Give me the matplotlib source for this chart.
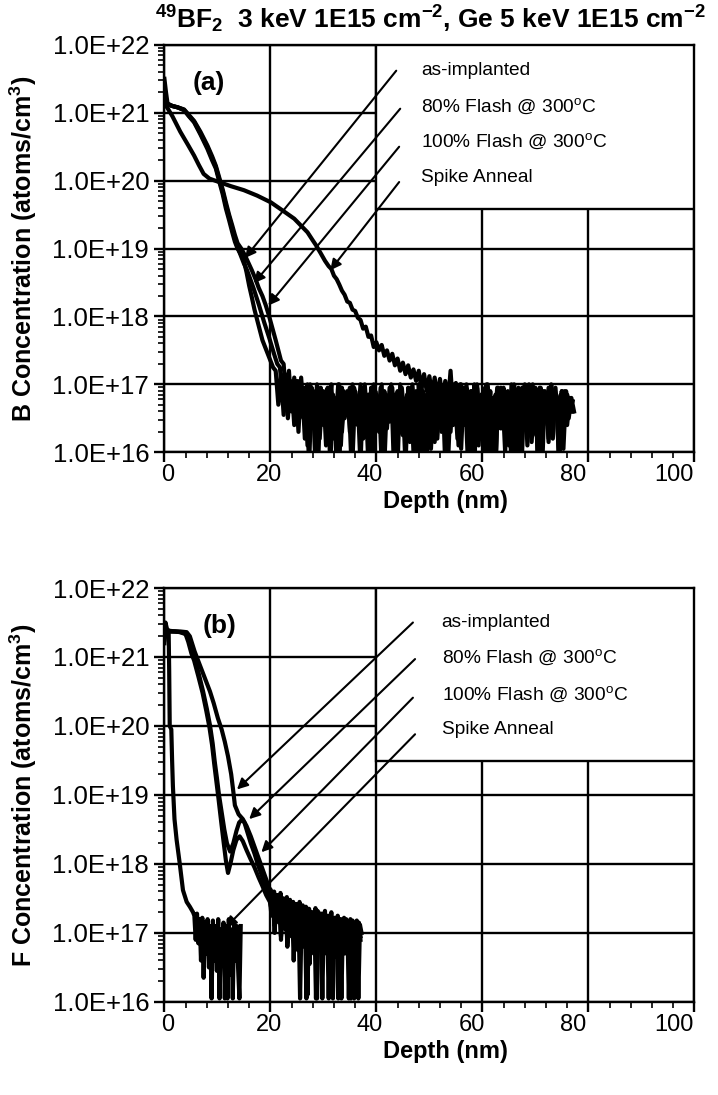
"""SIMS depth profiles of B and F after BF2 + Ge implant, two stacked panels."""

import matplotlib
matplotlib.use("Agg")
import matplotlib.pyplot as plt   # noqa: E402
import matplotlib.transforms as mtransforms  # noqa: E402
import numpy as np                # noqa: E402
from matplotlib.patches import Rectangle  # noqa: E402
from matplotlib.ticker import (FixedLocator, LogLocator, MultipleLocator,  # noqa: E402
                               NullFormatter)

plt.rcParams["font.family"] = ["Liberation Sans", "DejaVu Sans"]
plt.rcParams["mathtext.fontset"] = "custom"
plt.rcParams["mathtext.rm"] = "Liberation Sans"
plt.rcParams["mathtext.bf"] = "Liberation Sans:bold"
plt.rcParams["mathtext.default"] = "regular"

TITLE = (r"$^{\mathbf{49}}$BF$_{\mathbf{2}}$  3 keV 1E15 cm$^{\mathbf{-2}}$, "
         r"Ge 5 keV 1E15 cm$^{\mathbf{-2}}$")
LEGEND_LABELS = ["as-implanted", "80% Flash @ 300$^{o}$C",
                 "100% Flash @ 300$^{o}$C", "Spike Anneal"]
X_TICKS = [0, 20, 40, 60, 80, 100]
Y_TICK_EXP = [16, 17, 18, 19, 20, 21, 22]
Y_TICK_LABELS = ["1.0E+16", "1.0E+17", "1.0E+18", "1.0E+19",
                 "1.0E+20", "1.0E+21", "1.0E+22"]

# ---- panel (a): boron.  depth in nm, concentration as log10(atoms/cm3) ----
# smooth "heads" are read point by point, noisy "tails" follow at fixed steps
b_asimpl_x = [0, 0.3, 0.6, 1.5, 2.5, 3.7, 4.6, 5.6, 6.8, 8.1, 9.0, 9.7, 10.3,
              11.0, 11.6, 12.2, 12.8, 13.3, 13.8, 14.4, 15.0, 15.5, 16.0,
              16.5, 17.0, 17.5, 18.0, 18.5, 19.0, 19.5, 20.0, 20.5]
b_asimpl_y = [21.5, 21.3, 21.13, 21.1, 21.08, 21.04, 20.95, 20.86, 20.68,
              20.47, 20.3, 20.18, 20.0, 19.8, 19.59, 19.42, 19.24, 19.1, 19.0,
              18.92, 18.82, 18.65, 18.45, 18.28, 18.1, 17.95, 17.8, 17.65,
              17.55, 17.45, 17.35, 17.25]
b_asimpl_tail = [
    17.2, 16.7, 17.15, 16.55, 17.1, 16.6, 17.0, 16.4, 17.05, 16.5,
    16.95, 16.2, 17.0, 16.6, 16.85, 15.8, 16.95, 16.45, 16.9, 16.1,
    16.95, 16.5, 16.8, 15.8, 17.0, 16.3, 16.85, 16.55, 16.95, 15.9,
    16.9, 16.4, 17.0, 16.2, 16.75, 15.8, 16.95, 16.5, 16.85, 16.3,
    17.0, 15.8, 16.8, 16.45, 16.95, 16.1, 16.9, 16.6, 16.75, 15.8,
    16.95, 16.35, 16.85, 16.0, 17.0, 16.5, 16.8, 15.8, 16.9, 16.4,
    16.95, 16.2, 16.85, 16.55, 17.0, 15.8, 16.75, 16.4, 16.95, 16.1,
    16.9, 16.5, 16.95, 15.8, 16.8, 16.3, 17.0, 16.45, 16.85, 16.0,
    16.95, 16.4, 16.75, 15.8, 16.9, 16.55, 16.95, 16.2, 16.85, 16.45,
    17.0, 15.8, 16.85, 16.35, 16.95, 16.1, 16.8, 16.5, 16.9, 15.8,
    16.95, 16.4, 16.85, 16.2, 17.0, 16.55, 16.75, 15.8, 16.9, 16.4,
    16.85, 16.6, 16.75]

b_flash80_x = [0, 0.5, 1.5, 2.5, 3.7, 4.6, 5.6, 6.8, 8.1, 9.0, 9.7, 10.3,
               11.0, 11.6, 12.2, 12.8, 13.3, 13.8, 14.4, 15.0, 15.6, 16.2,
               16.8, 17.3, 17.8, 18.3, 18.8, 19.3, 19.8, 20.3, 20.8, 21.3]
b_flash80_y = [21.15, 21.12, 21.1, 21.08, 21.04, 20.96, 20.87, 20.7, 20.5,
               20.33, 20.2, 20.03, 19.84, 19.64, 19.47, 19.3, 19.15, 19.02,
               18.9, 18.78, 18.68, 18.55, 18.42, 18.3, 18.18, 18.05, 17.92,
               17.8, 17.68, 17.55, 17.42, 17.3]
b_flash80_tail = [
    17.25, 16.8, 17.15, 16.5, 17.05, 16.7, 16.95, 16.3, 17.1, 16.6,
    16.9, 15.8, 16.95, 16.5, 17.0, 16.2, 16.85, 16.6, 16.95, 15.8,
    16.85, 16.4, 17.0, 16.1, 16.9, 16.55, 16.8, 15.8, 16.95, 16.45,
    16.85, 16.25, 17.0, 16.5, 16.75, 15.8, 16.9, 16.4, 16.95, 16.0,
    16.85, 16.55, 17.0, 15.8, 16.8, 16.3, 16.95, 16.5, 16.85, 16.15,
    17.0, 16.45, 16.75, 15.8, 16.9, 16.35, 16.95, 16.05, 16.85, 16.5,
    17.0, 16.3, 16.8, 15.8, 16.95, 16.5, 16.85, 16.2, 17.0, 16.45,
    16.75, 15.8, 16.9, 16.4, 16.95, 16.1, 16.85, 16.55, 17.0, 15.8,
    16.8, 16.35, 16.95, 16.5, 16.85, 16.0, 16.9, 16.45, 16.75, 15.8,
    16.95, 16.3, 16.85, 16.55, 17.0, 16.15, 16.8, 16.4, 16.95, 15.8,
    16.9, 16.5, 16.75, 16.2, 16.95, 16.45, 16.85, 16.05, 16.9, 16.5,
    16.8, 16.6]

b_flash100_x = [0, 0.5, 1.5, 2.5, 3.7, 4.6, 5.6, 6.8, 8.1, 9.0, 9.7, 10.3,
                11.0, 11.6, 12.2, 12.8, 13.3, 13.8, 14.5, 15.2, 15.8, 16.5,
                17.2, 17.8, 18.5, 19.1, 19.7, 20.3, 21.0, 21.5, 22.0]
b_flash100_y = [21.2, 21.14, 21.1, 21.08, 21.05, 20.97, 20.88, 20.72, 20.52,
                20.36, 20.22, 20.06, 19.87, 19.68, 19.5, 19.34, 19.2, 19.08,
                19.0, 18.9, 18.8, 18.68, 18.55, 18.42, 18.3, 18.17, 18.02,
                17.85, 17.65, 17.5, 17.35]
b_flash100_tail = [
    17.3, 16.75, 17.2, 16.6, 17.1, 16.45, 17.05, 16.7, 16.95, 16.1,
    17.0, 16.5, 16.9, 15.8, 16.95, 16.4, 16.85, 16.6, 17.0, 16.2,
    16.8, 15.8, 16.95, 16.5, 16.9, 16.3, 17.0, 16.55, 16.75, 15.8,
    16.95, 16.4, 16.85, 16.1, 17.0, 16.5, 16.8, 15.8, 16.9, 16.35,
    16.95, 16.55, 16.85, 15.8, 17.0, 16.25, 16.75, 16.45, 16.95, 16.0,
    16.9, 16.5, 17.0, 15.8, 16.85, 16.4, 16.95, 16.15, 16.8, 16.55,
    16.95, 15.8, 16.9, 16.3, 17.0, 16.5, 16.75, 16.05, 16.95, 16.4,
    16.85, 15.8, 17.0, 16.55, 16.8, 16.2, 16.95, 16.45, 16.9, 15.8,
    16.85, 16.35, 16.95, 16.5, 16.75, 16.1, 17.0, 16.4, 16.85, 15.8,
    16.95, 16.55, 16.8, 16.25, 17.0, 16.45, 16.85, 15.8, 16.9, 16.5,
    16.95, 16.3, 16.85, 16.6, 16.75, 16.2, 16.9, 16.4, 16.8, 16.6]

b_spike_x = [0, 0.5, 1.5, 3.0, 4.5, 5.6, 6.5, 7.4, 8.5, 10.3, 12.5, 15.0,
             17.5, 20.1, 22.5, 24.5, 26.0, 27.0, 28.0, 28.6, 29.5, 30.3,
             31.0, 31.5, 32.0, 32.5, 33.0, 33.5, 34.0, 34.5, 35.0, 35.5,
             36.0, 36.5, 37.0, 37.5, 38.0, 38.5, 39.0, 39.5, 40.0, 40.5,
             41.0, 41.5, 42.0, 42.5, 43.0, 43.5, 44.0, 44.5, 45.0, 45.5,
             46.0, 46.5, 47.0, 47.5, 48.0, 48.5, 49.0, 49.5, 50.0, 50.5,
             51.0, 51.5, 52.0, 52.5, 53.0, 53.5, 54.0, 54.5, 55.0, 55.5,
             56.0]
b_spike_y = [21.12, 21.08, 20.95, 20.72, 20.52, 20.37, 20.23, 20.1, 20.03,
             19.98, 19.92, 19.86, 19.78, 19.68, 19.55, 19.44, 19.32, 19.24,
             19.12, 19.05, 18.93, 18.82, 18.74, 18.7, 18.6, 18.55, 18.47,
             18.38, 18.32, 18.22, 18.2, 18.1, 18.08, 17.98, 17.95, 17.82,
             17.85, 17.7, 17.72, 17.55, 17.62, 17.5, 17.58, 17.42, 17.5,
             17.35, 17.45, 17.28, 17.38, 17.2, 17.32, 17.15, 17.28, 17.1,
             17.22, 17.05, 17.2, 16.95, 17.15, 16.9, 17.12, 16.85, 17.1,
             16.8, 17.08, 16.75, 17.05, 16.7, 17.2, 16.6, 17.02, 16.5, 17.0]
b_spike_tail = [
    16.4, 17.0, 16.2, 16.9, 15.8, 16.95, 16.5, 16.85, 16.1, 17.0,
    16.45, 16.8, 15.8, 16.95, 16.35, 16.9, 16.55, 16.75, 15.8, 16.95,
    16.4, 16.85, 16.0, 17.0, 16.5, 16.8, 16.25, 16.95, 15.8, 16.9,
    16.45, 16.85, 16.15, 16.95, 16.55, 16.75, 15.8, 16.9, 16.4, 16.8,
    16.6, 16.75]

# ---- panel (b): fluorine ----
f_asimpl_x = [0, 0.2, 0.4, 1.0, 2.0, 3.0, 4.2, 4.8, 5.7, 6.7, 7.6, 8.6, 9.3,
              10.1, 10.8, 11.4, 12.0, 12.6, 13.0, 13.3, 14.0, 14.8, 15.5,
              16.3, 17.0, 17.7, 18.4, 19.1, 19.8]
f_asimpl_y = [21.2, 21.45, 21.4, 21.37, 21.37, 21.37, 21.36, 21.3, 21.08,
              20.88, 20.7, 20.5, 20.33, 20.11, 19.95, 19.77, 19.56, 19.3,
              19.05, 18.85, 18.72, 18.65, 18.55, 18.4, 18.25, 18.1, 17.95,
              17.8, 17.65]
f_asimpl_tail = [
    17.62, 17.35, 17.6, 17.25, 17.55, 17.15, 17.58, 17.3, 17.5, 17.05,
    17.52, 17.2, 17.48, 16.95, 17.45, 17.1, 17.42, 16.75, 17.45, 17.0,
    17.4, 16.85, 17.38, 16.1, 17.35, 16.9, 17.3, 16.7, 17.36, 16.05,
    17.3, 16.85, 17.28, 16.95, 17.32, 16.7, 17.25, 16.9, 17.3, 16.05,
    17.22, 16.8, 17.25, 16.6, 17.2, 16.9, 17.22, 16.75, 17.18, 16.05,
    17.2, 16.85, 17.15, 16.6, 17.18, 16.05, 17.12, 17.0]

f_flash80_x = [0, 0.3, 1.0, 2.0, 3.0, 4.0, 4.6, 5.2, 5.75, 6.5, 7.3, 8.0,
               8.6, 9.1, 9.5, 9.9, 10.3, 10.8, 11.3, 11.8, 12.4, 13.0, 13.6,
               14.1, 14.6, 15.1, 15.7, 16.3, 17.0, 17.6, 18.3, 19.0, 19.6]
f_flash80_y = [21.3, 21.38, 21.37, 21.37, 21.36, 21.34, 21.25, 21.1, 20.98,
               20.75, 20.5, 20.25, 20.01, 19.75, 19.48, 19.25, 19.0, 18.75,
               18.5, 18.3, 18.18, 18.3, 18.48, 18.6, 18.64, 18.6, 18.45,
               18.3, 18.15, 18.0, 17.85, 17.7, 17.55]
f_flash80_tail = [
    17.5, 17.25, 17.55, 17.1, 17.5, 17.3, 17.45, 16.95, 17.5, 17.2,
    17.42, 16.8, 17.45, 17.1, 17.4, 16.9, 17.38, 17.15, 17.4, 16.7,
    17.35, 16.95, 17.32, 16.05, 17.35, 16.85, 17.3, 17.0, 17.28, 16.6,
    17.32, 16.9, 17.25, 16.05, 17.28, 16.8, 17.22, 16.95, 17.25, 16.5,
    17.2, 16.85, 17.22, 16.05, 17.2, 16.9, 17.18, 16.7, 17.2, 16.85,
    17.15, 16.05, 17.18, 16.8, 17.12, 16.6, 17.15, 16.9]

f_flash100_x = [0, 0.3, 1.0, 2.0, 3.0, 4.0, 4.5, 5.1, 5.6, 6.4, 7.2, 7.9,
                8.5, 9.0, 9.4, 9.8, 10.2, 10.7, 11.2, 11.6, 12.0, 12.5, 13.0,
                13.6, 14.2, 14.8, 15.5, 16.2, 17.0, 17.8, 18.5, 19.2, 19.9]
f_flash100_y = [21.25, 21.4, 21.38, 21.37, 21.36, 21.33, 21.22, 21.05, 20.95,
                20.72, 20.48, 20.22, 19.98, 19.72, 19.45, 19.2, 18.95, 18.62,
                18.3, 18.05, 17.87, 18.02, 18.2, 18.35, 18.4, 18.33, 18.2,
                18.08, 17.95, 17.8, 17.68, 17.55, 17.45]
f_flash100_tail = [
    17.35, 17.5, 17.0, 17.48, 17.2, 17.45, 16.9, 17.42, 17.15, 17.45,
    16.85, 17.4, 17.05, 17.38, 16.6, 17.35, 16.95, 17.32, 16.05, 17.3,
    16.8, 17.35, 17.0, 17.28, 16.55, 17.3, 16.9, 17.25, 16.05, 17.28,
    16.85, 17.22, 16.7, 17.25, 16.95, 17.2, 16.05, 17.22, 16.8, 17.18,
    16.65, 17.2, 16.9, 17.15, 16.05, 17.18, 16.75, 17.12, 16.9, 17.15,
    16.5, 17.12, 16.05, 17.1, 16.8, 17.08, 16.95]

f_spike_x = [0, 0.2, 0.5, 0.8, 0.9, 1.0, 1.3, 1.45, 1.6, 1.9, 2.3, 2.9, 3.5,
             4.2, 4.8, 5.4]
f_spike_y = [21.3, 21.5, 21.4, 21.35, 20.8, 20.0, 19.95, 19.5, 19.13, 18.65,
             18.35, 18.0, 17.62, 17.45, 17.38, 17.3]
f_spike_tail = [
    17.25, 16.9, 17.28, 16.85, 17.2, 16.6, 17.22, 16.35, 17.15, 16.7,
    17.2, 16.5, 17.1, 16.05, 17.18, 16.6, 17.1, 16.45, 17.2, 16.05,
    17.05, 16.55, 17.15, 16.05, 17.1, 16.05, 17.2, 16.4, 17.05, 16.05,
    17.15, 16.6, 17.1, 16.5, 16.05, 17.1]

# arrows: legend end (x, log10) -> curve end (x, log10), in legend order
a_arrow_from_x = [43.75, 44.5, 44.3, 44.3]
a_arrow_from_y = [21.62, 21.06, 20.50, 19.98]
a_arrow_to_x = [15.2, 16.9, 19.6, 31.3]
a_arrow_to_y = [18.86, 18.49, 18.16, 18.68]
a_text_x = 48.5
a_text_y = [21.62, 21.10, 20.58, 20.05]
a_box_bottom = 19.58

b_arrow_from_x = [46.9, 47.3, 46.9, 47.3]
b_arrow_from_y = [21.50, 20.97, 20.41, 19.88]
b_arrow_to_x = [13.7, 16.0, 18.3, 11.6]
b_arrow_to_y = [19.08, 18.65, 18.17, 17.08]
b_text_x = 52.3
b_text_y = [21.50, 20.99, 20.46, 19.95]
b_box_bottom = 19.49

# the exported chart draws its depth labels on a slightly tighter pitch
# than the gridlines; these are the label centres in depth units
X_LABEL_AT = [0.6, 19.7, 38.8, 58.0, 77.1, 96.2]


def _series(head_x, head_y, tail_y, step):
    x = list(head_x) + [head_x[-1] + step * (i + 1) for i in range(len(tail_y))]
    y = list(head_y) + list(tail_y)
    return np.array(x), 10.0 ** np.array(y)


def _style_axes(ax, ylabel):
    ax.set_xlim(0, 100)
    ax.set_yscale("log")
    ax.set_ylim(1e16, 1e22)
    ax.set_axisbelow(True)
    ax.xaxis.set_major_locator(FixedLocator(X_TICKS))
    ax.xaxis.set_minor_locator(MultipleLocator(4))
    ax.yaxis.set_major_locator(FixedLocator([10.0 ** e for e in Y_TICK_EXP]))
    ax.yaxis.set_minor_locator(LogLocator(base=10, subs=range(2, 10)))
    ax.yaxis.set_minor_formatter(NullFormatter())
    ax.set_yticklabels(Y_TICK_LABELS)
    ax.grid(True, which="major", color="k", lw=1.7)
    for sp in ax.spines.values():
        sp.set_linewidth(1.7)
    ax.tick_params(which="major", direction="out", length=7, width=1.7,
                   labelsize=18.5, pad=4)
    ax.tick_params(which="minor", direction="out", length=4, width=1.2)
    ax.tick_params(axis="x", labelbottom=False)
    trans = mtransforms.blended_transform_factory(ax.transData, ax.transAxes)
    for pos, tick in zip(X_LABEL_AT, X_TICKS):
        ax.text(pos, -0.030, str(tick), transform=trans, fontsize=17,
                ha="center", va="top", clip_on=False)
    ax.set_xlabel("Depth (nm)", fontsize=17, fontweight="bold")
    ax.set_ylabel(ylabel, fontsize=18, fontweight="bold")
    ax.xaxis.set_label_coords(0.53, -0.092)
    ax.yaxis.set_label_coords(-0.236, 0.5)


def _legend_block(ax, box_bottom, fx, fy, tx, ty, text_x, text_y):
    ax.add_patch(Rectangle((40, 10.0 ** box_bottom), 60,
                           1e22 - 10.0 ** box_bottom, facecolor="white",
                           edgecolor="k", lw=1.7, zorder=3))
    for i, label in enumerate(LEGEND_LABELS):
        ax.annotate("", xy=(tx[i], 10.0 ** ty[i]),
                    xytext=(fx[i], 10.0 ** fy[i]),
                    arrowprops=dict(arrowstyle="-|>", color="k", lw=1.5,
                                    mutation_scale=16, shrinkA=0, shrinkB=0),
                    zorder=4)
        ax.text(text_x, 10.0 ** text_y[i], label, fontsize=13.8,
                ha="left", va="center", zorder=5)


fig = plt.figure(figsize=(7.18, 10.95), dpi=100)
ax_a = fig.add_axes([0.229, 0.587, 0.738, 0.372])
ax_b = fig.add_axes([0.229, 0.085, 0.738, 0.378])

curves_a = [
    _series(b_asimpl_x, b_asimpl_y, b_asimpl_tail, 0.5),
    _series(b_flash80_x, b_flash80_y, b_flash80_tail, 0.5),
    _series(b_flash100_x, b_flash100_y, b_flash100_tail, 0.5),
    _series(b_spike_x, b_spike_y, b_spike_tail, 0.5),
]
curves_b = [
    _series(f_asimpl_x, f_asimpl_y, f_asimpl_tail, 0.3),
    _series(f_flash80_x, f_flash80_y, f_flash80_tail, 0.3),
    _series(f_flash100_x, f_flash100_y, f_flash100_tail, 0.3),
    _series(f_spike_x, f_spike_y, f_spike_tail, 0.25),
]

for x, y in curves_a:
    ax_a.plot(x, y, color="k", lw=3.0, zorder=2)
for x, y in curves_b:
    ax_b.plot(x, y, color="k", lw=3.0, zorder=2)

_style_axes(ax_a, "B Concentration (atoms/cm$^{\\mathbf{3}}$)")
_style_axes(ax_b, "F Concentration (atoms/cm$^{\\mathbf{3}}$)")

_legend_block(ax_a, a_box_bottom, a_arrow_from_x, a_arrow_from_y,
              a_arrow_to_x, a_arrow_to_y, a_text_x, a_text_y)
_legend_block(ax_b, b_box_bottom, b_arrow_from_x, b_arrow_from_y,
              b_arrow_to_x, b_arrow_to_y, b_text_x, b_text_y)

ax_a.text(8.4, 10.0 ** 21.44, "(a)", fontsize=19, fontweight="bold",
          ha="center", va="center", zorder=5)
ax_b.text(10.5, 10.0 ** 21.45, "(b)", fontsize=19, fontweight="bold",
          ha="center", va="center", zorder=5)

fig.text(0.600, 0.982, TITLE, fontsize=19, fontweight="bold",
         ha="center", va="center")

fig.savefig("out.png", dpi=100)
